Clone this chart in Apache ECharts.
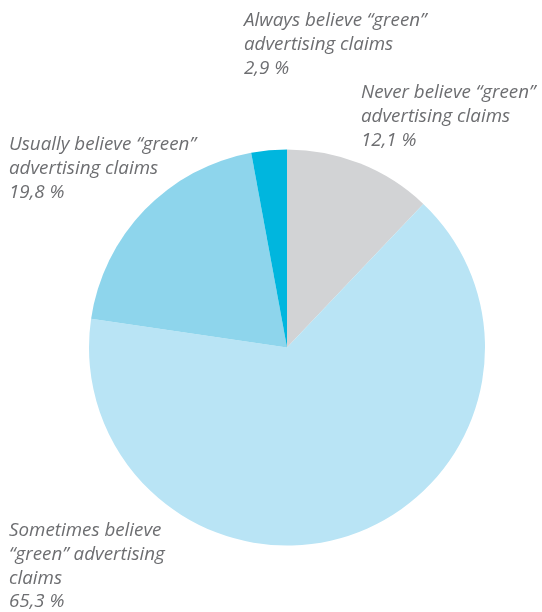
<!DOCTYPE html>
<html>
<head>
<meta charset="utf-8">
<script src="https://cdn.jsdelivr.net/npm/echarts@6/dist/echarts.min.js"></script>
<style>html,body{margin:0;padding:0;background:#fff;}#c{width:542px;height:612px;}</style>
</head>
<body>
<div id="c"></div>
<script>
const categories = [
  'Never believe \u201Cgreen\u201D\nadvertising claims',
  'Sometimes believe\n\u201Cgreen\u201D advertising\nclaims',
  'Usually believe \u201Cgreen\u201D\nadvertising claims',
  'Always believe \u201Cgreen\u201D\nadvertising claims'
];
const values = [12.1, 65.3, 19.8, 2.9];
const valueLabels = ['12,1 %', '65,3 %', '19,8 %', '2,9 %'];
const colors = ['#d2d3d5', '#b9e4f5', '#8ed5ec', '#00b6de'];
const labelPos = [[361, 81], [9, 519], [9, 133], [244, 9]];

const chart = echarts.init(document.getElementById('c'), null, {renderer: 'canvas'});
chart.setOption({
  animation: false,
  series: [{
    type: 'pie',
    center: [287, 347.5],
    radius: [0, 198],
    startAngle: 90,
    clockwise: true,
    avoidLabelOverlap: false,
    emphasis: {disabled: true},
    data: values.map((v, i) => ({
      value: v,
      name: categories[i],
      itemStyle: {color: colors[i]}
    })),
    label: {
      show: true,
      formatter: p => categories[p.dataIndex] + '\n' + valueLabels[p.dataIndex],
      fontFamily: 'Open Sans',
      fontStyle: 'italic',
      fontSize: 18.8,
      lineHeight: 23.7,
      color: '#6d6e71',
      align: 'left'
    },
    labelLine: {show: false},
    labelLayout: p => ({
      x: labelPos[p.dataIndex][0],
      y: labelPos[p.dataIndex][1],
      align: 'left',
      verticalAlign: 'top'
    })
  }]
});
</script>
</body>
</html>
